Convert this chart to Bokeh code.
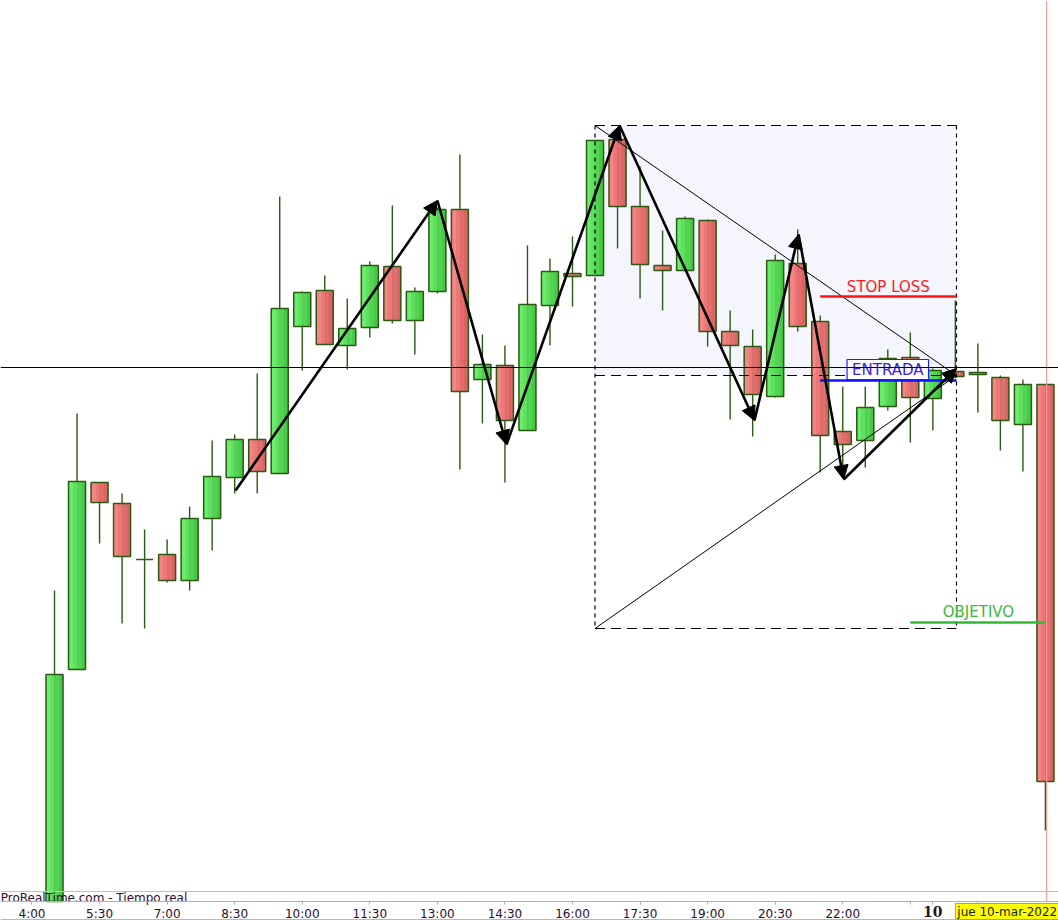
from bokeh.plotting import figure
from bokeh.models import Range1d, FixedTicker, Label, Arrow, NormalHead, ColumnDataSource, Span
from bokeh.core.properties import value
from bokeh.embed import file_html
from bokeh.resources import INLINE

# ---------------- data (30-minute candles, first candle 4:30, 9-mar-2022) ----------------
first_candle = "4:30"
step_min = 30

opens  = [70, 331, 518, 497, 441, 446, 420, 482, 523, 561, 527, 674, 710, 655, 673, 734, 680, 709, 791, 621,
          635, 570, 695, 727, 725, 861, 794, 735, 730, 780, 669, 654, 604, 737, 679, 569, 560, 594, 643, 602,
          629, 626, 623, 576, 616]
highs  = [410, 587, 518, 507, 471, 461, 494, 560, 566, 627, 804, 709, 725, 702, 739, 795, 713, 793, 846, 666,
          655, 755, 742, 764, 860, 861, 834, 770, 784, 781, 690, 671, 746, 771, 685, 614, 614, 651, 668, 632,
          700, 657, 625, 621, 616]
lows   = [60, 331, 457, 377, 372, 418, 410, 450, 507, 507, 527, 630, 656, 631, 663, 677, 646, 707, 531, 577,
          518, 570, 655, 694, 725, 752, 702, 690, 730, 654, 581, 564, 603, 669, 528, 522, 533, 590, 558, 570,
          622, 588, 550, 529, 170]
closes = [326, 519, 498, 444, 441, 420, 482, 524, 561, 529, 692, 708, 656, 672, 735, 680, 709, 791, 609, 636,
          580, 696, 729, 724, 860, 794, 736, 730, 782, 669, 655, 606, 740, 674, 565, 556, 593, 642, 603, 630,
          624, 628, 580, 616, 219]

tick_labels = ["4:00", "5:30", "7:00", "8:30", "10:00", "11:30", "13:00", "14:30",
               "16:00", "17:30", "19:00", "20:30", "22:00"]
minor_times = ["23:30", "25:00"]          # unlabeled ticks (25:00 = 01:00 next day)
day_time = "24:00"
day_label = "10"
date_label = "jue 10-mar-2022"
watermark = "ProRealTime.com - Tiempo real"

# drawing objects (candle index, price)
zigzag_x = [8.04, 17.0, 20.07, 25.09, 31.08, 33.04, 35.04, 40.05]
zigzag_y = [510, 800, 556, 875, 580, 766, 521, 632]

box_left, box_right = 24.0, 40.05
box_top, box_mid, box_bottom = 875, 625, 372
apex = (40.05, 625)

stop_loss = 704
entrada = 620
objetivo = 378
level_x0, level_x1 = 34.0, 40.05
obj_x0, obj_x1 = 38.0, 44.05
crosshair_price = 633
crosshair_idx = 44.05
bottom_line_price = 109
axis_price = 99          # price level where the time axis sits
date_box_x = 40.0


def to_min(t):
    h, m = t.split(":")
    return int(h) * 60 + int(m)


base = to_min(first_candle)
idx = list(range(len(opens)))

# ---------------- figure ----------------
p = figure(width=1058, height=920, x_range=Range1d(-2.398, 44.58), y_range=Range1d(80, 1000),
           output_backend="svg", toolbar_location=None, y_axis_location=None,
           min_border_left=0, min_border_right=0, min_border_top=0, min_border_bottom=0)
p.xgrid.visible = False
p.ygrid.visible = False
p.outline_line_color = None
p.background_fill_color = "white"

# shaded upper half of the projection box
p.quad(left=[box_left], right=[box_right], top=[box_top], bottom=[box_mid],
       fill_color="#f5f6fd", line_color=None)

# candles
up = [c >= o for o, c in zip(opens, closes)]
wick = "#2b5a12"
p.segment(x0=idx, y0=[max(l, axis_price) for l in lows], x1=idx, y1=highs, line_color=wick, line_width=1.4)

w = 0.755
greens = ["#6cec6c", "#5fe05f", "#52d452", "#46c946"]
reds = ["#f68484", "#ed7878", "#e36d6d", "#da6464"]
tops = [max(o, c) for o, c in zip(opens, closes)]
bots = [max(min(o, c), axis_price) for o, c in zip(opens, closes)]
for k in range(4):
    off = (-0.375 + 0.25 * k) * w
    xs = [i + off for i in idx]
    cols = [greens[k] if u else reds[k] for u in up]
    p.vbar(x=xs, width=w / 4 * 1.08, top=tops, bottom=bots, fill_color=cols, line_color=None)
p.vbar(x=idx, width=w, top=tops, bottom=bots, fill_color=None, line_color=wick, line_width=1.5)

# dashed projection box
hd = "10 6"
vd = "4 4"
p.segment(x0=[box_left, box_left, box_left], y0=[box_top, box_mid, box_bottom],
          x1=[box_right, box_right, box_right], y1=[box_top, box_mid, box_bottom],
          line_color="black", line_width=1.2, line_dash=hd)
p.segment(x0=[box_left, box_right], y0=[box_top, box_top], x1=[box_left, box_right], y1=[box_bottom, box_bottom],
          line_color="black", line_width=1.2, line_dash=vd)

# thin triangle lines
p.segment(x0=[box_left, box_left], y0=[box_top, box_bottom], x1=[apex[0], apex[0]], y1=[apex[1], apex[1]],
          line_color="black", line_width=1)

# levels
p.segment(x0=[level_x0], y0=[stop_loss], x1=[level_x1], y1=[stop_loss], line_color="#ff1010", line_width=2.5)
p.segment(x0=[level_x0], y0=[entrada], x1=[level_x1], y1=[entrada], line_color="#1010ff", line_width=2.5)
p.segment(x0=[obj_x0], y0=[objetivo], x1=[obj_x1], y1=[objetivo], line_color="#33b833", line_width=2.5)

p.text(x=[(level_x0 + level_x1) / 2], y=[stop_loss + 10], text=["STOP LOSS"], text_align="center",
       text_baseline="middle", text_color="#ff1a1a", text_font=value("DejaVu Sans"), text_font_size="15px")
p.text(x=[(obj_x0 + obj_x1) / 2], y=[objetivo + 11], text=["OBJETIVO"], text_align="center",
       text_baseline="middle", text_color="#3cb83c", text_font=value("DejaVu Sans"), text_font_size="15px")
p.add_layout(Label(x=37.0, y=entrada + 11, text="ENTRADA", text_align="center", text_baseline="middle",
                   text_color="#3a22f0", text_font="DejaVu Sans", text_font_size="15px",
                   background_fill_color="white", border_line_color="#2020ff", border_line_width=1.2,
                   padding=dict(left=5, right=5, top=1, bottom=1)))

# zigzag arrows
src = ColumnDataSource(dict(x0=zigzag_x[:-1], y0=zigzag_y[:-1], x1=zigzag_x[1:], y1=zigzag_y[1:]))
p.add_layout(Arrow(end=NormalHead(size=14, fill_color="black", line_color="black", line_width=1),
                   x_start="x0", y_start="y0", x_end="x1", y_end="y1", source=src,
                   line_color="black", line_width=2.6))

# crosshair & bottom lines
p.add_layout(Span(location=crosshair_price, dimension="width", line_color="black", line_width=1.2))
p.segment(x0=[crosshair_idx], y0=[axis_price], x1=[crosshair_idx], y1=[1000], line_color="#ff9a9a", line_width=1.2)
p.add_layout(Span(location=bottom_line_price, dimension="width", line_color="#f4a8a8", line_width=1.2))
p.add_layout(Span(location=81, dimension="width", line_color="#b8b8b8", line_width=1.2))

p.text(x=[-2.39], y=[103], text=[watermark], text_align="left", text_baseline="alphabetic",
       text_color="#2d0f35", text_font=value("DejaVu Sans"), text_font_size="12px")

# x axis (drawn at a fixed price level inside the frame)
tick_pos = [(to_min(t) - base) / step_min for t in tick_labels]
minor_pos = [(to_min(t) - base) / step_min for t in minor_times]
day_pos = (to_min(day_time) - base) / step_min
ax = p.xaxis[0]
ax.fixed_location = axis_price
ax.ticker = FixedTicker(ticks=tick_pos + minor_pos + [day_pos], minor_ticks=[])
overrides = {pos: lab for pos, lab in zip(tick_pos, tick_labels)}
for mp in minor_pos + [day_pos]:
    overrides[mp] = ""
ax.major_label_overrides = overrides
ax.axis_line_color = "#b0b0b0"
ax.major_tick_line_color = "#b0b0b0"
ax.major_tick_in = 0
ax.major_tick_out = 3
ax.major_label_standoff = 2
ax.major_label_text_font = "DejaVu Sans"
ax.major_label_text_font_size = "12px"
ax.major_label_text_color = "#2a0f30"

p.add_layout(Label(x=day_pos, y=89, text=day_label, text_align="center", text_baseline="middle",
                   text_font="DejaVu Serif", text_font_style="bold", text_font_size="14px",
                   text_color="#1a1a1a"))
p.add_layout(Label(x=date_box_x, y=89, text=date_label, text_align="left", text_baseline="middle",
                   text_font="DejaVu Sans", text_font_size="12px", text_color="#1a1a1a",
                   background_fill_color="#ffff00", border_line_color="#a0a0a0",
                   padding=dict(left=2, right=2, top=1, bottom=1)))

open("out.html", "w").write(file_html(p, INLINE))
